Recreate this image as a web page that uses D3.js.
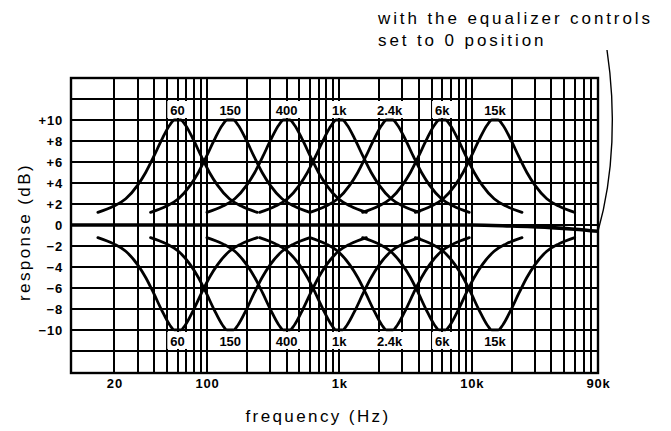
<!DOCTYPE html>
<meta charset="utf-8">
<title>equalizer response</title>
<style>
body{margin:0;background:#fff;}
text{font-family:"Liberation Sans",Arial,sans-serif;fill:#000;}
.grid line{stroke:#000;stroke-width:1.8px;shape-rendering:crispEdges;}
.frame{fill:none;stroke:#000;stroke-width:2.4px;}
.curve{fill:none;stroke:#000;stroke-width:2.8px;stroke-linecap:round;}
.flat{fill:none;stroke:#000;stroke-width:3.6px;}
.tick text{font-size:13px;font-weight:bold;letter-spacing:0.8px;}
.band{font-size:13px;font-weight:bold;text-anchor:middle;}
.title{font-size:17px;letter-spacing:2.4px;text-anchor:middle;}
.note{font-size:17px;letter-spacing:2.9px;}
</style>
<body>
<script src="https://cdn.jsdelivr.net/npm/d3@7"></script>
<script>
// band centres of the equalizer
var bandFreq=[60,150,400,1000,2400,6000,15000];
var bandLabel=["60","150","400","1k","2.4k","6k","15k"];
// one boost curve: octaves from the band centre, response in dB
var shapeOct=[-2,-1.6,-1.3,-1,-0.8,-0.6,-0.4,-0.2,-0.08,0.08,0.2,0.4,0.6,0.8,1,1.3,1.6,2];
var shapeDb=[1.2,1.8,2.5,3.8,5,6.5,8.1,9.5,10,10,9.5,8.1,6.5,5,3.8,2.5,1.8,1.2];
// controls at 0 position
var flatFreq=[9.4,1000,10000,20000,40000,60000,90000];
var flatDb=[0,0,0,-0.1,-0.25,-0.4,-0.6];
var yTicks=[10,8,6,4,2,0,-2,-4,-6,-8,-10];
var yTickLabels=["+10","+8","+6","+4","+2","0","\u22122","\u22124","\u22126","\u22128","\u221210"];
var xTicks=[20,100,1000,10000,90000];
var xTickLabels=["20","100","1k","10k","90k"];

var svg=d3.select("body").append("svg").attr("width",671).attr("height",431);

var x=d3.scaleLog().domain([9.4,90000]).range([71,598]);
var y=d3.scaleLinear().domain([-14.1,14]).range([373,78]);

// log paper grid
var grid=svg.append("g").attr("class","grid");
grid.selectAll(".v").data(x.ticks().filter(d=>d>=20))
	.enter().append("line").attr("class","v")
	.attr("x1",d=>Math.round(x(d))).attr("x2",d=>Math.round(x(d)))
	.attr("y1",y.range()[0]).attr("y2",y.range()[1]);
grid.selectAll(".h").data(d3.range(-12,13,2))
	.enter().append("line").attr("class","h")
	.attr("x1",x.range()[0]).attr("x2",x.range()[1])
	.attr("y1",d=>Math.round(y(d))).attr("y2",d=>Math.round(y(d)));

svg.append("rect").attr("class","frame")
	.attr("x",x.range()[0]).attr("y",y.range()[1])
	.attr("width",x.range()[1]-x.range()[0]).attr("height",y.range()[0]-y.range()[1]);

// band labels in white boxes
function bandLabels(yBase,yTop,yBot){
	var g=svg.append("g");
	bandFreq.forEach(function(f,i){
		var t=g.append("text").attr("class","band").attr("x",x(f)).attr("y",yBase).text(bandLabel[i]);
		var w=t.node().getComputedTextLength();
		g.insert("rect","text").attr("x",x(f)-w/2-3).attr("width",w+6)
			.attr("y",yTop).attr("height",yBot-yTop).attr("fill","#fff");
	});
}
bandLabels(115,y(12)+2,y(10)-2);
bandLabels(346,y(-10)+2,y(-12)-2);

var line=d3.line().x(d=>x(d[0])).y(d=>y(d[1])).curve(d3.curveMonotoneX);

bandFreq.forEach(function(f){
	[1,-1].forEach(function(s){
		svg.append("path").attr("class","curve")
			.attr("d",line(shapeOct.map((o,i)=>[f*Math.pow(2,o),s*shapeDb[i]])));
	});
});

svg.append("path").attr("class","flat")
	.attr("d",line(flatFreq.map((f,i)=>[f,flatDb[i]])));

// axes
var ya=svg.append("g").attr("transform","translate("+x.range()[0]+",0)")
	.call(d3.axisLeft(y).tickValues(yTicks).tickFormat((d,i)=>yTickLabels[i]).tickSize(0).tickPadding(8));
var xa=svg.append("g").attr("transform","translate(0,"+y.range()[0]+")")
	.call(d3.axisBottom(x).tickValues(xTicks).tickFormat((d,i)=>xTickLabels[i]).tickSize(0).tickPadding(6));
[ya,xa].forEach(function(a){
	a.attr("font-family",null).attr("font-size",null);
	a.select(".domain").remove();
});

svg.append("text").attr("class","title").attr("x",318).attr("y",422).text("frequency (Hz)");
svg.append("text").attr("class","title")
	.attr("transform","translate(30,232) rotate(-90)").text("response (dB)");

// note with its leader line
svg.append("text").attr("class","note").attr("x",378).attr("y",24).text("with the equalizer controls");
svg.append("text").attr("class","note").attr("x",378).attr("y",46).text("set to 0 position");
var p=d3.path();
var ex=x(90000), ey=y(-0.6);
p.moveTo(607,50);
p.bezierCurveTo(616,110,614,175,ex,ey);
svg.append("path").attr("d",p.toString()).attr("fill","none").attr("stroke","#000").attr("stroke-width",1.4);
</script>
</body>
